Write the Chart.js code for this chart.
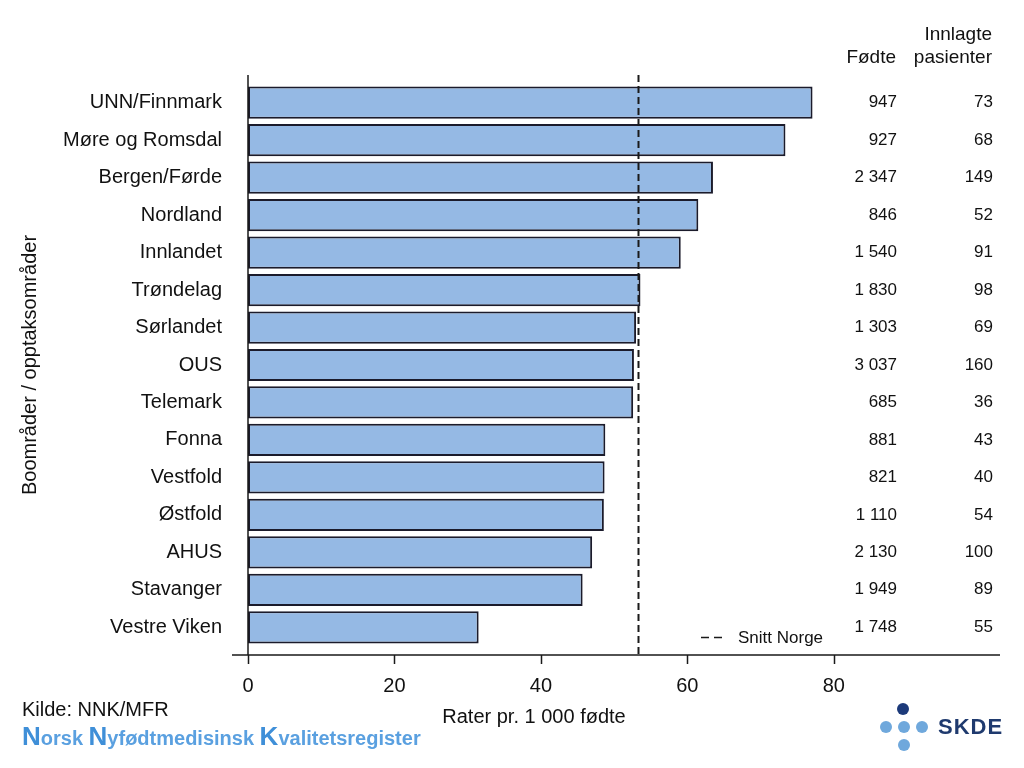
<!DOCTYPE html>
<html>
<head>
<meta charset="utf-8">
<script src="https://cdn.jsdelivr.net/npm/chart.js@4"></script>
<style>
  html, body { margin: 0; padding: 0; background: #fff; }
  #wrap { width: 1024px; height: 768px; }
</style>
</head>
<body>
<div id="wrap"><canvas id="rates" width="1024" height="768"></canvas></div>
<script>
"use strict";

const areas = ["UNN/Finnmark", "Møre og Romsdal", "Bergen/Førde", "Nordland", "Innlandet",
    "Trøndelag", "Sørlandet", "OUS", "Telemark", "Fonna", "Vestfold", "Østfold",
    "AHUS", "Stavanger", "Vestre Viken"];
const rates = [77.1, 73.4, 63.5, 61.5, 59.1, 53.6, 53.0, 52.7, 52.6, 48.8, 48.7, 48.6, 47.0, 45.7, 31.5];
const births = ["947", "927", "2 347", "846", "1 540", "1 830", "1 303", "3 037", "685",
    "881", "821", "1 110", "2 130", "1 949", "1 748"];
const admitted = ["73", "68", "149", "52", "91", "98", "69", "160", "36", "43", "40", "54", "100", "89", "55"];
const xTicks = [0, 20, 40, 60, 80];
const norwayAvg = 53.3;

const FONT = "'Liberation Sans', Arial, sans-serif";

// axes, average line, side columns, footer
const extras = {
    id: "extras",
    afterDraw(chart) {
        const ctx = chart.ctx;
        const x = chart.scales.x;
        const y = chart.scales.y;
        const axisY = 655;
        const top = 75;

        ctx.save();
        ctx.strokeStyle = "#1a1a1a";
        ctx.lineWidth = 1.5;
        ctx.beginPath();
        ctx.moveTo(x.left, top);
        ctx.lineTo(x.left, axisY);
        ctx.moveTo(232, axisY);
        ctx.lineTo(x.right, axisY);
        xTicks.forEach((t) => {
            const px = Math.round(x.getPixelForValue(t)) + 0.5;
            ctx.moveTo(px, axisY);
            ctx.lineTo(px, axisY + 9);
        });
        ctx.stroke();

        // Snitt Norge
        const ax = Math.round(x.getPixelForValue(norwayAvg)) + 0.5;
        ctx.lineWidth = 2;
        ctx.setLineDash([7, 4]);
        ctx.beginPath();
        ctx.moveTo(ax, top);
        ctx.lineTo(ax, axisY);
        ctx.stroke();
        ctx.beginPath();
        ctx.setLineDash([8, 5]);
        ctx.lineWidth = 1.5;
        ctx.moveTo(701, 637.5);
        ctx.lineTo(723, 637.5);
        ctx.stroke();
        ctx.setLineDash([]);

        ctx.fillStyle = "#111";
        ctx.textBaseline = "middle";
        ctx.font = "17px " + FONT;
        ctx.textAlign = "left";
        ctx.fillText("Snitt Norge", 738, 638);

        // columns
        ctx.textAlign = "right";
        areas.forEach((a, i) => {
            const py = y.getPixelForValue(i);
            ctx.fillText(births[i], 897, py);
            ctx.fillText(admitted[i], 993, py);
        });
        ctx.font = "19px " + FONT;
        ctx.fillText("Fødte", 896, 58);
        ctx.fillText("Innlagte", 992, 35);
        ctx.fillText("pasienter", 992, 58);

        // axis titles
        ctx.font = "20px " + FONT;
        ctx.textAlign = "center";
        ctx.fillText("Rater pr. 1 000 fødte", 534, 717);
        ctx.save();
        ctx.translate(30, 365);
        ctx.rotate(-Math.PI / 2);
        ctx.fillText("Boområder / opptaksområder", 0, 0);
        ctx.restore();

        // footer
        ctx.textAlign = "left";
        ctx.font = "20px " + FONT;
        ctx.fillText("Kilde: NNK/MFR", 22, 710);
        let fx = 22;
        const parts = [["N", true], ["orsk ", false], ["N", true], ["yfødtmedisinsk ", false], ["K", true], ["valitetsregister", false]];
        ctx.textBaseline = "alphabetic";
        parts.forEach(([txt, big]) => {
            ctx.font = "bold " + (big ? 26 : 20) + "px " + FONT;
            ctx.fillStyle = big ? "#3f8fd8" : "#5aa0e0";
            ctx.fillText(txt, fx, 745);
            fx += ctx.measureText(txt).width;
        });

        // SKDE logo
        const dot = (cx, cy, c) => {
            ctx.fillStyle = c;
            ctx.beginPath();
            ctx.arc(cx, cy, 6, 0, Math.PI * 2);
            ctx.fill();
        };
        dot(903, 709, "#1c3a7a");
        dot(886, 727, "#6fa8dc");
        dot(904, 727, "#6fa8dc");
        dot(922, 727, "#6fa8dc");
        dot(904, 745, "#6fa8dc");
        ctx.fillStyle = "#1f3a6e";
        ctx.font = "bold 22px " + FONT;
        ctx.letterSpacing = "1px";
        ctx.textBaseline = "middle";
        ctx.fillText("SKDE", 938, 728);
        ctx.restore();
    }
};

new Chart(document.getElementById("rates"), {
    type: "bar",
    data: {
        labels: areas,
        datasets: [{
            data: rates,
            backgroundColor: "#95b9e4",
            borderColor: "#1b1b2b",
            borderWidth: 2,
            borderSkipped: false,
            barPercentage: 0.86,
            categoryPercentage: 1
        }]
    },
    options: {
        indexAxis: "y",
        responsive: false,
        animation: false,
        layout: { padding: { top: 84, right: 24, left: 0, bottom: 0 } },
        plugins: {
            legend: { display: false },
            tooltip: { enabled: false }
        },
        scales: {
            x: {
                min: 0,
                max: 102.7,
                grid: { display: false },
                border: { display: false },
                afterFit: (s) => { s.height = 122; },
                afterBuildTicks: (s) => { s.ticks = xTicks.map((v) => ({ value: v })); },
                ticks: { padding: 20, color: "#111", font: { family: FONT, size: 20 } }
            },
            y: {
                grid: { display: false },
                border: { display: false },
                afterFit: (s) => { s.width = 248; },
                ticks: { padding: 18, color: "#111", font: { family: FONT, size: 20 } }
            }
        }
    },
    plugins: [extras]
});
</script>
</body>
</html>
